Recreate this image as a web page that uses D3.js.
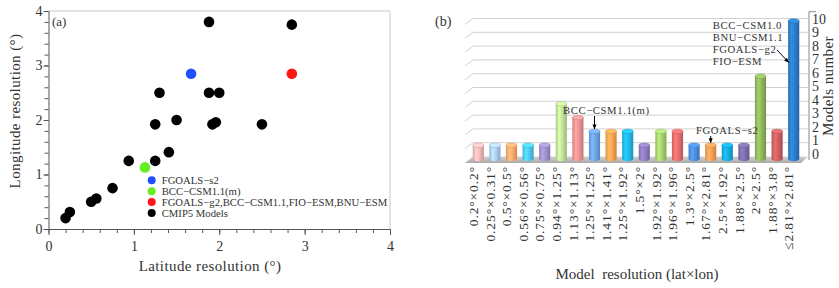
<!DOCTYPE html>
<html>
<head>
<meta charset="utf-8">
<script src="https://cdn.jsdelivr.net/npm/d3@7"></script>
<style>
  body { margin: 0; background: #fff; }
  svg { display: block; }
  text { font-family: "Liberation Serif", "Times New Roman", serif; fill: #333; }
</style>
</head>
<body>
<div id="chart"></div>
<script>
// ---- panel (a): grid resolution of the CMIP5 models ----
const latRes = [0.2, 0.25, 0.5, 0.56, 0.75, 0.94, 1.25, 1.41, 1.25, 1.5, 1.92, 1.96, 2.5, 1.3, 1.88, 2, 1.88, 2.85];
const lonRes = [0.2, 0.31, 0.5, 0.56, 0.75, 1.25, 1.25, 1.41, 1.92, 2, 1.92, 1.96, 1.92, 2.5, 2.5, 2.5, 3.8, 3.75];
const hlNames = ["FGOALS−s2", "BCC−CSM1.1(m)", "FGOALS−g2,BCC−CSM1.1,FIO−ESM,BNU−ESM"];
const hlLat = [1.67, 1.13, 2.85];
const hlLon = [2.85, 1.13, 2.85];
const hlColors = ["#1f4fff", "#66ee22", "#ff1414"];
const axisTicksA = [0, 1, 2, 3, 4];

// ---- panel (b): number of models per resolution ----
const resLabels = ["0.2°×0.2°", "0.25°×0.31°", "0.5°×0.5°", "0.56°×0.56°", "0.75°×0.75°",
  "0.94°×1.25°", "1.13°×1.13°", "1.25°×1.25°", "1.41°×1.41°", "1.25°×1.92°", "1.5°×2°",
  "1.92°×1.92°", "1.96°×1.96°", "1.3°×2.5°", "1.67°×2.81°", "2.5°×1.92°", "1.88°×2.5°",
  "2°×2.5°", "1.88°×3.8°", "≤2.81°×2.81°"];
const modelCounts = [1, 1, 1, 1, 1, 4, 3, 2, 2, 2, 1, 2, 2, 1, 1, 1, 1, 6, 2, 10];
const barColors = ["#f2b4b4", "#a9c8ef", "#f6a66a", "#4cc4ee", "#9c8cc6", "#bcdc94", "#e68f8f",
  "#6b9fe0", "#f4a050", "#1fb3e6", "#8a7abb", "#a2cc6c", "#e06a6a", "#4b89d6", "#f09a56",
  "#16a7d9", "#7a6aa8", "#8bb35a", "#c85e5e", "#2b79c4"];
const countTicks = d3.range(0, 11);
const groupNote = ["BCC−CSM1.0", "BNU−CSM1.1", "FGOALS−g2", "FIO−ESM"];

const W = 839, H = 288;
const svg = d3.select("#chart").append("svg").attr("width", W).attr("height", H);

// ================= (a) scatter =================
const x = d3.scaleLinear().domain([0, 4]).range([48.5, 390]);
const y = d3.scaleLinear().domain([0, 4]).range([229, 11]);
const a = svg.append("g");

// light frame top/right
a.append("path")
  .attr("d", `M${x(0)},${y(4)}H${x(4)}V${y(0)}`)
  .attr("fill", "none").attr("stroke", "#c8c8c8");

const minor = d3.range(0, 4.001, 0.2);
const styleAxis = g => {
  g.selectAll("path,line").attr("stroke", "#555");
  g.selectAll("text").attr("fill", "#333").style("font-size", "14px")
    .style("font-family", "Liberation Serif");
};
a.append("g").attr("transform", `translate(0,${y(0)})`)
  .call(d3.axisBottom(x).tickValues(minor).tickSize(4).tickFormat(""))
  .call(g => g.select(".domain").remove()).call(styleAxis);
a.append("g").attr("transform", `translate(0,${y(0)})`)
  .call(d3.axisBottom(x).tickValues(axisTicksA).tickSize(6).tickSizeOuter(0).tickPadding(6).tickFormat(d3.format("d")))
  .call(styleAxis);
a.append("g").attr("transform", `translate(${x(0)},0)`)
  .call(d3.axisLeft(y).tickValues(minor).tickSize(4).tickFormat(""))
  .call(g => g.select(".domain").remove()).call(styleAxis);
a.append("g").attr("transform", `translate(${x(0)},0)`)
  .call(d3.axisLeft(y).tickValues(axisTicksA).tickSize(5).tickSizeOuter(0).tickPadding(1).tickFormat(d3.format("d")))
  .call(styleAxis);

a.append("text").attr("x", 210).attr("y", 271)
  .attr("text-anchor", "middle").style("font-size", "15px").style("letter-spacing", "0.4px")
  .text("Latitude resolution (°)");
a.append("text").attr("transform", "translate(20,111) rotate(-90)")
  .attr("text-anchor", "middle").style("font-size", "15px").style("letter-spacing", "0.4px")
  .text("Longitude resolution (°)");
a.append("text").attr("x", 52).attr("y", 26).style("font-size", "13px").text("(a)");

a.append("g").selectAll("circle").data(latRes).join("circle")
  .attr("cx", d => x(d)).attr("cy", (d, i) => y(lonRes[i])).attr("r", 5.3).attr("fill", "#000");
a.append("g").selectAll("circle").data(hlLat).join("circle")
  .attr("cx", d => x(d)).attr("cy", (d, i) => y(hlLon[i])).attr("r", 5.3)
  .attr("fill", (d, i) => hlColors[i]);

// legend
const legNames = hlNames.concat(["CMIP5 Models"]);
const legColors = hlColors.concat(["#000"]);
const leg = a.append("g").attr("transform", "translate(151.7,180.3)");
legNames.forEach((n, i) => {
  const row = leg.append("g").attr("transform", `translate(0,${i * 10.9})`);
  row.append("circle").attr("r", 4).attr("fill", legColors[i]);
  row.append("text").attr("x", 10).attr("y", 3.7).style("font-size", "10.7px").text(n);
});

// ================= (b) 3D-style bars =================
const xb = d3.scaleBand().domain(resLabels).range([470, 802])
  .paddingInner(0.33).paddingOuter(0.165);
const yb = d3.scaleLinear().domain([0, 10]).range([159, 21]);
const bw = xb.bandwidth();
const b = svg.append("g");

const defs = svg.append("defs");
barColors.forEach((c, i) => {
  const base = d3.color(c);
  const g = defs.append("linearGradient").attr("id", `bg${i}`).attr("x1", 0).attr("x2", 1);
  g.append("stop").attr("offset", "0%").attr("stop-color", base.darker(0.3));
  g.append("stop").attr("offset", "30%").attr("stop-color", base.brighter(0.45));
  g.append("stop").attr("offset", "60%").attr("stop-color", base.brighter(0.1));
  g.append("stop").attr("offset", "100%").attr("stop-color", base.darker(0.55));
});
const fg = defs.append("linearGradient").attr("id", "floor").attr("x1", 0).attr("x2", 0).attr("y1", 0).attr("y2", 1);
fg.append("stop").attr("offset", "0%").attr("stop-color", "#d4d4d4");
fg.append("stop").attr("offset", "100%").attr("stop-color", "#a8a8a8");

// back-wall gridlines with perspective stubs
const gx0 = 473, gx1 = 808;
b.append("g").selectAll("path").data(countTicks.slice(1)).join("path")
  .attr("d", v => `M${gx0 - 8},${yb(v) - 2.5 + 6}L${gx0},${yb(v) - 2.5}H${gx1}`)
  .attr("fill", "none").attr("stroke", "#d2d2d2").attr("stroke-width", 1);

// floor
b.append("path")
  .attr("d", `M${gx0},${yb(0) - 2.5}H${gx1}L${gx1 - 7},${yb(0) + 4}H${gx0 - 8}Z`)
  .attr("fill", "url(#floor)");

// right axis
const ya = d3.scaleLinear().domain([0, 10]).range([154, 19]);
b.append("path").attr("d", `M${gx1 + 1},11.7V${yb(0) + 1}M${gx1 + 1},11.7h7`)
  .attr("stroke", "#888").attr("fill", "none");
b.append("g").selectAll("text").data(countTicks).join("text")
  .attr("x", 812).attr("y", v => ya(v)).attr("dy", "0.35em")
  .style("font-size", "14px").text(v => v);
b.append("text").attr("transform", "translate(833,86) rotate(-90)")
  .attr("text-anchor", "middle").style("font-size", "15px").style("letter-spacing", "0.4px")
  .text("Models number");

// cylinders
const bars = b.append("g").selectAll("g").data(modelCounts).join("g");
bars.append("ellipse")
  .attr("cx", (d, i) => xb(resLabels[i]) + bw / 2).attr("cy", yb(0))
  .attr("rx", bw / 2).attr("ry", 2.2).attr("fill", (d, i) => `url(#bg${i})`);
bars.append("rect")
  .attr("x", (d, i) => xb(resLabels[i])).attr("y", d => yb(d))
  .attr("width", bw).attr("height", d => yb(0) - yb(d))
  .attr("fill", (d, i) => `url(#bg${i})`);
bars.append("ellipse")
  .attr("cx", (d, i) => xb(resLabels[i]) + bw / 2).attr("cy", d => yb(d))
  .attr("rx", bw / 2).attr("ry", 2.2)
  .attr("fill", (d, i) => d3.color(barColors[i]).brighter(0.5))
  .attr("stroke", (d, i) => d3.color(barColors[i]).darker(0.3)).attr("stroke-width", 0.6);

// category labels
b.append("g").selectAll("text").data(resLabels).join("text")
  .attr("transform", d => `translate(${xb(d) + bw / 2 - 5},166) rotate(-90)`)
  .attr("text-anchor", "end").attr("dy", "0.35em")
  .style("font-size", "13.5px").style("letter-spacing", "0.9px")
  .text(d => d);
b.append("text").attr("x", 637).attr("y", 279).attr("text-anchor", "middle")
  .style("font-size", "15px").attr("xml:space", "preserve")
  .text("Model  resolution (lat×lon)");
b.append("text").attr("x", 435).attr("y", 26).style("font-size", "14px").text("(b)");

// annotations
defs.append("marker").attr("id", "arr").attr("viewBox", "0 0 10 10")
  .attr("refX", 9).attr("refY", 5).attr("markerWidth", 5).attr("markerHeight", 5)
  .attr("orient", "auto")
  .append("path").attr("d", "M0,1L10,5L0,9Z").attr("fill", "#000");

const noteStyle = t => t.style("font-size", "10.7px").style("letter-spacing", "0.6px");
const cx = i => xb(resLabels[i]) + bw / 2;
b.append("text").attr("x", 563).attr("y", 113.5).call(noteStyle).text("BCC−CSM1.1(m)");
b.append("line").attr("x1", cx(7)).attr("x2", cx(7)).attr("y1", 116).attr("y2", yb(modelCounts[7]) - 2.5)
  .attr("stroke", "#000").attr("marker-end", "url(#arr)");
b.append("text").attr("x", 696).attr("y", 134).call(noteStyle).text("FGOALS−s2");
b.append("line").attr("x1", cx(14)).attr("x2", cx(14)).attr("y1", 136).attr("y2", yb(modelCounts[14]) - 2.5)
  .attr("stroke", "#000").attr("marker-end", "url(#arr)");
b.append("g").selectAll("text").data(groupNote).join("text")
  .attr("x", 712.7).attr("y", (d, i) => 28.5 + i * 12.2)
  .call(noteStyle).text(d => d);
b.append("line").attr("x1", 777).attr("y1", 50)
  .attr("x2", xb(resLabels[19]) + 0.5).attr("y2", yb(7))
  .attr("stroke", "#000").attr("marker-end", "url(#arr)");
</script>
</body>
</html>
